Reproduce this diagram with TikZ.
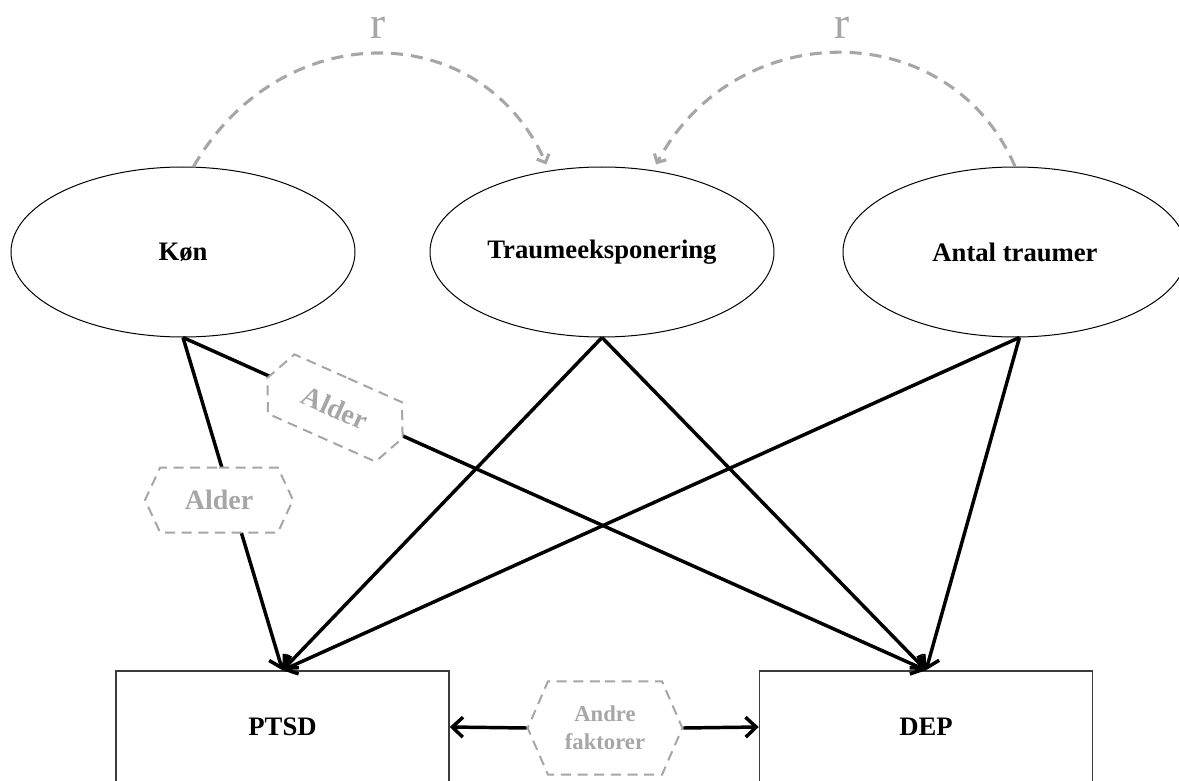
\documentclass[tikz,border=0pt]{standalone}
\usepackage{fontspec}
\setmainfont{Liberation Serif}
\usetikzlibrary{shapes.geometric,shapes.symbols,arrows.meta,calc}
\definecolor{softgray}{RGB}{166,166,166}
\definecolor{boxline}{RGB}{60,60,60}

\begin{document}
\begin{tikzpicture}[x=0.75pt,y=0.75pt,
  factor/.style={ellipse, draw=black, line width=0.75pt, fill=white,
    minimum width=258pt, minimum height=127.5pt, inner sep=0pt,
    font=\fontsize{20}{24}\selectfont\bfseries},
  outcome/.style={rectangle, draw=boxline, line width=1.1pt, fill=white,
    minimum width=249.75pt, minimum height=84pt, inner sep=0pt,
    font=\fontsize{20}{24}\selectfont\bfseries},
  hexa/.style={signal, signal to=east and west, draw=softgray, fill=white,
    line width=1.5pt, dash pattern=on 7.5pt off 5pt, text=softgray,
    inner sep=0pt},
  effect/.style={line width=2.6pt, -{Straight Barb[length=8pt,width=15pt]}},
  corr/.style={draw=softgray, line width=2.3pt, dash pattern=on 9pt off 6pt,
    -{Straight Barb[length=5pt,width=10pt]}, shorten >=5pt},
  rlabel/.style={text=softgray, font=\fontsize{34}{40}\selectfont, inner sep=0pt}]

\clip (0,0) rectangle (1179,-781);
\fill[white] (0,0) rectangle (1179,-781);

% predictors
\node[factor] (kon) at (183,-252) {\raisebox{-2pt}{Køn}};
\node[factor] (trauma) at (602,-252) {\raisebox{-2pt}{Traumeeksponering}};
\node[factor] (antal) at (1015,-252) {\raisebox{-2pt}{Antal traumer}};

% outcomes
\node[outcome] (ptsd) at (282.5,-727) {PTSD};
\node[outcome] (dep) at (926,-727) {DEP};

% correlations between predictors
\draw[corr] (kon.83) .. controls (280,-16) and (480,-16) .. (trauma.123);
\draw[corr] (antal.north) .. controls (950,-15) and (736,-15) .. (trauma.58);
\node[rlabel] (r1) at (378,-28) {r};
\node[rlabel] (r2) at (842,-28) {r};

% direct effects
\draw[effect] (kon.south) -- (ptsd.north);
\draw[effect] (kon.south) -- (dep.north);
\draw[effect] (trauma.south) -- (ptsd.north);
\draw[effect] (trauma.south) -- (dep.north);
\draw[effect] (antal.-87) -- (ptsd.north);
\draw[effect] (antal.-87) -- (dep.north);

% moderators and other factors
\node[hexa, minimum width=111pt, minimum height=48.75pt, signal pointer angle=130,
  font=\fontsize{21}{24}\selectfont\bfseries] (alder1) at (219,-500) {Alder};
\node[hexa, minimum width=111pt, minimum height=48.75pt, signal pointer angle=130,
  rotate=-24, font=\fontsize{21}{24}\selectfont\bfseries] (alder2) at (335,-408) {Alder};
\node[hexa, minimum width=116pt, minimum height=70pt, signal pointer angle=133,
  align=center, font=\fontsize{17}{21}\selectfont\bfseries] (andre) at (605,-728) {Andre\\faktorer};

\draw[effect] (andre.west) -- (ptsd.east);
\draw[effect] (andre.east) -- (dep.west);
\end{tikzpicture}
\end{document}
